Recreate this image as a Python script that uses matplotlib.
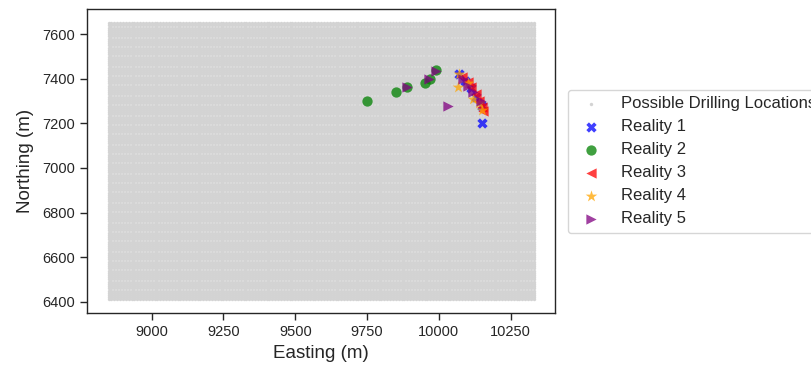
import numpy as np
import matplotlib
matplotlib.use("Agg")
import matplotlib.pyplot as plt

# Candidate drilling grid (Easting, Northing), 10 m spacing
grid_easting = np.arange(8850, 10331, 10)
grid_northing = np.arange(6410, 7651, 10)

# Chosen drilling locations for each reality
r1_e = [10070, 10090, 10110, 10130, 10150, 10150]
r1_n = [7420, 7390, 7360, 7320, 7280, 7200]

r2_e = [9750, 9850, 9890, 9950, 9970, 9990]
r2_n = [7300, 7340, 7362, 7380, 7400, 7440]

r3_e = [10080, 10100, 10110, 10130, 10140, 10150, 10155]
r3_n = [7410, 7385, 7365, 7330, 7300, 7275, 7255]

r4_e = [10070, 10065, 10100, 10120, 10140, 10150]
r4_n = [7420, 7365, 7380, 7310, 7290, 7262]

r5_e = [9890, 9965, 9990, 10030, 10085, 10100, 10120, 10145]
r5_n = [7362, 7400, 7436, 7280, 7400, 7370, 7340, 7300]

labels = ["Possible Drilling Locations", "Reality 1", "Reality 2",
          "Reality 3", "Reality 4", "Reality 5"]

plt.rcParams['font.family'] = ['Liberation Sans', 'DejaVu Sans']

fig = plt.figure(figsize=(8.11, 3.66), dpi=100)
ax = fig.add_axes([87.3 / 811, (366 - 313.3) / 366, (555 - 87.3) / 811, (313.3 - 9.3) / 366])

gx, gy = np.meshgrid(grid_easting, grid_northing)
ax.scatter(gx.ravel(), gy.ravel(), s=6, c='lightgray', linewidths=0,
           label=labels[0], zorder=1)

ms = 55
ax.scatter(r1_e, r1_n, s=ms, marker='X', c='blue', alpha=0.75, linewidths=0, label=labels[1], zorder=2)
ax.scatter(r2_e, r2_n, s=ms, marker='o', c='green', alpha=0.75, linewidths=0, label=labels[2], zorder=2)
ax.scatter(r3_e, r3_n, s=ms, marker='<', c='red', alpha=0.75, linewidths=0, label=labels[3], zorder=2)
ax.scatter(r4_e, r4_n, s=ms * 1.4, marker='*', c='orange', alpha=0.75, linewidths=0, label=labels[4], zorder=2)
ax.scatter(r5_e, r5_n, s=ms, marker='>', c='purple', alpha=0.75, linewidths=0, label=labels[5], zorder=2)

ax.set_xticks([9000, 9250, 9500, 9750, 10000, 10250])
ax.set_yticks([6400, 6600, 6800, 7000, 7200, 7400, 7600])
ax.tick_params(axis='both', labelsize=10.5, colors='#262626', length=5, width=1,
               direction='out', top=False, right=False)
for sp in ax.spines.values():
    sp.set_color('#262626')
    sp.set_linewidth(1.0)

ax.set_xlabel("Easting (m)", fontsize=13.5, color='#262626')
ax.set_ylabel("Northing (m)", fontsize=13.5, color='#262626', labelpad=6)

leg = ax.legend(loc='center left', bbox_to_anchor=(1.027, 0.5), borderaxespad=0,
                fontsize=12, labelspacing=0.48, frameon=True,
                edgecolor='#cccccc', fancybox=True)
leg.get_frame().set_linewidth(1.0)
for t in leg.get_texts():
    t.set_color('#262626')

fig.savefig("out.png", dpi=100)
